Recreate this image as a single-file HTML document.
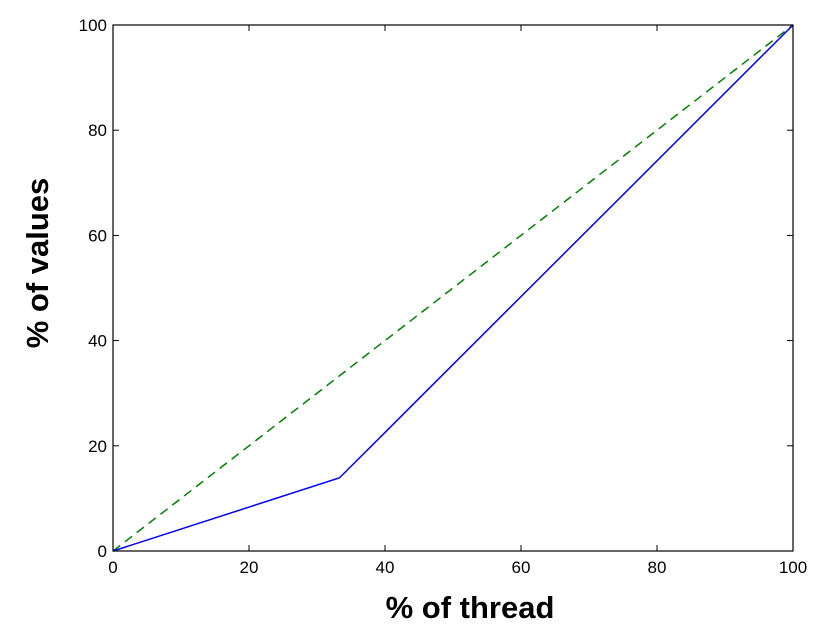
<!DOCTYPE html>
<html><head><meta charset="utf-8"><style>
body{margin:0;background:#fff;width:821px;height:640px;overflow:hidden}
svg{display:block;font-family:"Liberation Sans","Noto Sans CJK SC",sans-serif}
</style></head><body>
<svg id="chart" width="821" height="640"></svg>
<script>
const xTicks=[0,20,40,60,80,100];
const yTicks=[0,20,40,60,80,100];
const blueX=[0,33.3,100];
const blueY=[0,13.9,100];
const greenX=[0,100];
const greenY=[0,100];
const L=113,R=793,T=25,B=551;
const sx=v=>L+(v-0)/100*(R-L);
const sy=v=>B-(v-0)/100*(B-T);
const svg=document.getElementById('chart');
const NS='http://www.w3.org/2000/svg';
function mk(t,a,p){const e=document.createElementNS(NS,t);for(const k in a)e.setAttribute(k,a[k]);(p||svg).appendChild(e);return e;}
const g=mk('line',{x1:sx(greenX[0]),y1:sy(greenY[0]),x2:sx(greenX[1]),y2:sy(greenY[1]),stroke:'#008000','stroke-width':1.5,'stroke-dasharray':'9,6'});


const b=mk('polyline',{points:blueX.map((x,i)=>sx(x)+','+sy(blueY[i])).join(' '),fill:'none',stroke:'#0000ff','stroke-width':1.5});


const f=mk('rect',{x:L,y:T,width:R-L,height:B-T,fill:'none',stroke:'#000','stroke-width':1.2});


xTicks.forEach(v=>{
  mk('line',{x1:sx(v),y1:B,x2:sx(v),y2:B-6,stroke:'#000'});
  mk('line',{x1:sx(v),y1:T,x2:sx(v),y2:T+6,stroke:'#000'});
  const t=mk('text',{x:sx(v),y:B+22,'text-anchor':'middle','font-size':17});
  t.textContent=v;
  
  
});
yTicks.forEach(v=>{
  mk('line',{x1:L,y1:sy(v),x2:L+6,y2:sy(v),stroke:'#000'});
  mk('line',{x1:R,y1:sy(v),x2:R-6,y2:sy(v),stroke:'#000'});
  const t=mk('text',{x:L-6,y:sy(v)+6,'text-anchor':'end','font-size':17});
  t.textContent=v;
  
  
});
const xt=mk('text',{x:470,y:618,'text-anchor':'middle','font-size':31,'font-weight':'bold'});
xt.textContent='% of thread';


const yt=mk('text',{x:0,y:0,'text-anchor':'middle','font-size':31,'font-weight':'bold',transform:'translate(48,263) rotate(-90)'});
yt.textContent='% of values';


</script>
</body></html>
